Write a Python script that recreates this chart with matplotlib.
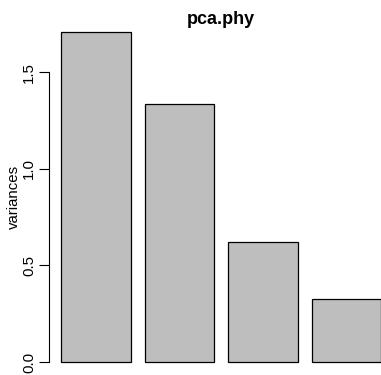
import matplotlib
matplotlib.use("Agg")
import matplotlib.pyplot as plt
import numpy as np

plt.rcParams['font.family'] = ['Liberation Sans', 'DejaVu Sans']

title = "pca.phy"
ylabel = "variances"
components = ["PC1", "PC2", "PC3", "PC4"]
variances = [1.709, 1.335, 0.620, 0.326]
yticks = [0.0, 0.5, 1.0, 1.5]

W, H = 381, 375
fig = plt.figure(figsize=(W / 100, H / 100), dpi=100)

# R barplot geometry: width 1, space 0.2
width = 1.0
space = 0.2
n = len(variances)
left_edges = space + np.arange(n) * (width + space)
xmin, xmax = left_edges[0], left_edges[-1] + width
ext = 0.04 * (xmax - xmin)
ymax = max(variances)
yext = 0.04 * ymax

px_left, px_right = 48.5, 393.8
px_top, px_bottom = 18.5, 375.2
ax = fig.add_axes([px_left / W, 1 - px_bottom / H,
                   (px_right - px_left) / W, (px_bottom - px_top) / H])

ax.bar(left_edges, variances, width=width, align='edge',
       color='#BEBEBE', edgecolor='black', linewidth=0.9)
ax.set_xlim(xmin - ext, xmax + ext)
ax.set_ylim(-yext, ymax + yext)

for s in ['top', 'right', 'bottom']:
    ax.spines[s].set_visible(False)
ax.spines['left'].set_bounds(yticks[0], yticks[-1])
ax.spines['left'].set_linewidth(0.8)
ax.set_xticks([])
ax.set_yticks(yticks)
ax.set_yticklabels([f"{t:.1f}" for t in yticks], rotation=90, va='center')
ax.tick_params(axis='y', length=7, width=0.8, pad=2, labelsize=10.8)

fig.text(221 / W, 1 - 24.5 / H, title, ha='center', va='baseline',
         fontsize=13, fontweight='bold')
fig.text(14 / W, 1 - 197 / H, ylabel, ha='center', va='center',
         rotation=90, fontsize=10.8)

fig.savefig("out.png", dpi=100)
